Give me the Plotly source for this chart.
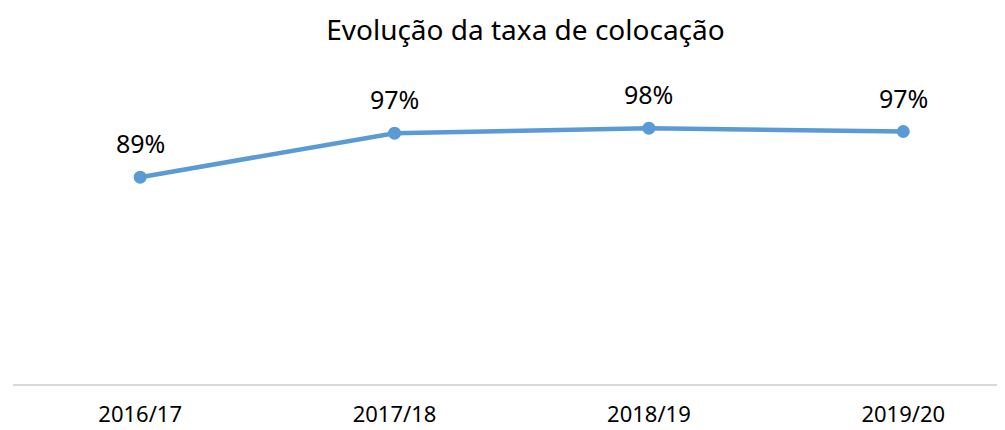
import plotly.graph_objects as go

categories = ["2016/17", "2017/18", "2018/19", "2019/20"]
values = [89.0, 97.0, 97.9, 97.3]
labels = ["89%", "97%", "98%", "97%"]
title_text = "Evolução da taxa de colocação"

FONT = "Noto Sans"
BLUE = "#5b9bd5"

fig = go.Figure()
fig.add_trace(go.Scatter(
    x=categories, y=values, mode="lines+markers",
    line=dict(color=BLUE, width=4.5),
    marker=dict(color=BLUE, size=13),
    hoverinfo="skip", showlegend=False,
))
for c, v, t in zip(categories, values, labels):
    fig.add_annotation(x=c, y=v, text=t, showarrow=False, yshift=34,
                       font=dict(family=FONT, size=25, color="#000000"))

fig.update_layout(
    width=997, height=422,
    margin=dict(l=5, r=0, t=52, b=46),
    paper_bgcolor="white", plot_bgcolor="white",
    title=dict(text=title_text, x=0.519, xref="container", xanchor="center",
               y=0.948, yref="container", yanchor="middle",
               font=dict(family=FONT, size=28, color="#000000")),
    xaxis=dict(type="category", range=[-0.5, 3.4], showgrid=False,
               showline=True, linecolor="#d9d9d9", linewidth=1.5,
               ticks="outside", ticklen=10, tickcolor="rgba(0,0,0,0)",
               tickfont=dict(family=FONT, size=22, color="#000000"),
               zeroline=False, fixedrange=True, automargin=False),
    yaxis=dict(range=[51.4, 110.3], visible=False, showgrid=False, zeroline=False),
)

fig.write_html("out.html")
